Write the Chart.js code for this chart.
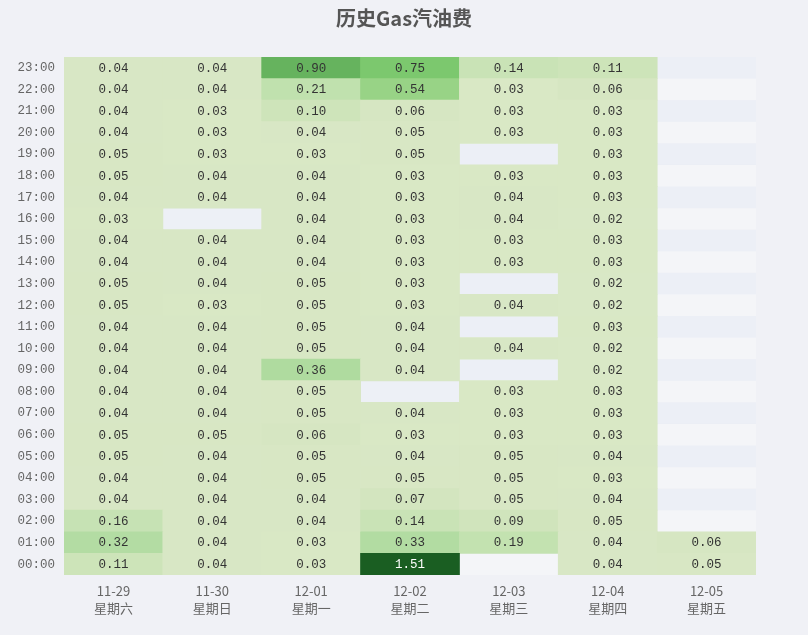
<!DOCTYPE html>
<html><head><meta charset="utf-8">
<script src="https://cdn.jsdelivr.net/npm/chart.js@4/dist/chart.umd.min.js"></script>
<style>html,body{margin:0;padding:0;background:#f0f1f6;}#wrap{width:808px;height:635px;position:relative;}</style>
</head><body><div id="wrap"><canvas id="c"></canvas></div>
<script>
const dates = ['11-29','11-30','12-01','12-02','12-03','12-04','12-05'];
const weekdays = ['星期六','星期日','星期一','星期二','星期三','星期四','星期五'];
const hourLabels = ['00:00','01:00','02:00','03:00','04:00','05:00','06:00','07:00','08:00','09:00','10:00','11:00',
  '12:00','13:00','14:00','15:00','16:00','17:00','18:00','19:00','20:00','21:00','22:00','23:00'];
// values per day, hour 00 -> 23 (null = no data)
const v1129 = [0.11,0.32,0.16,0.04,0.04,0.05,0.05,0.04,0.04,0.04,0.04,0.04,0.05,0.05,0.04,0.04,0.03,0.04,0.05,0.05,0.04,0.04,0.04,0.04];
const v1130 = [0.04,0.04,0.04,0.04,0.04,0.04,0.05,0.04,0.04,0.04,0.04,0.04,0.03,0.04,0.04,0.04,null,0.04,0.04,0.03,0.03,0.03,0.04,0.04];
const v1201 = [0.03,0.03,0.04,0.04,0.05,0.05,0.06,0.05,0.05,0.36,0.05,0.05,0.05,0.05,0.04,0.04,0.04,0.04,0.04,0.03,0.04,0.10,0.21,0.90];
const v1202 = [1.51,0.33,0.14,0.07,0.05,0.04,0.03,0.04,null,0.04,0.04,0.04,0.03,0.03,0.03,0.03,0.03,0.03,0.03,0.05,0.05,0.06,0.54,0.75];
const v1203 = [null,0.19,0.09,0.05,0.05,0.05,0.03,0.03,0.03,null,0.04,null,0.04,null,0.03,0.03,0.04,0.04,0.03,null,0.03,0.03,0.03,0.14];
const v1204 = [0.04,0.04,0.05,0.04,0.03,0.04,0.03,0.03,0.03,0.02,0.02,0.03,0.02,0.02,0.03,0.03,0.02,0.03,0.03,0.03,0.03,0.03,0.06,0.11];
const v1205 = [0.05,0.06,null,null,null,null,null,null,null,null,null,null,null,null,null,null,null,null,null,null,null,null,null,null];
const dayValues = [v1129,v1130,v1201,v1202,v1203,v1204,v1205];

const colorStops = [[0.02,'#d9e8c6'],[0.05,'#d8e7c4'],[0.07,'#d3e5bf'],[0.10,'#cee4ba'],[0.14,'#c9e3b6'],
  [0.21,'#c0e1ae'],[0.35,'#b0dba0'],[0.54,'#98d386'],[0.75,'#7cc86e'],[0.90,'#66b35e'],[1.51,'#1a5e22']];
function hex2rgb(h){return [parseInt(h.slice(1,3),16),parseInt(h.slice(3,5),16),parseInt(h.slice(5,7),16)];}
function cellRGB(v){
  if(v<=colorStops[0][0]) return hex2rgb(colorStops[0][1]);
  for(let i=1;i<colorStops.length;i++){
    if(v<=colorStops[i][0]){
      const a=colorStops[i-1],b=colorStops[i];const t=(v-a[0])/(b[0]-a[0]);
      const ca=hex2rgb(a[1]),cb=hex2rgb(b[1]);
      return ca.map((c,k)=>Math.round(c+(cb[k]-c)*t));
    }
  }
  return hex2rgb(colorStops[colorStops.length-1][1]);
}
function cellColor(v){const c=cellRGB(v);return `rgb(${c[0]},${c[1]},${c[2]})`;}

const datasets = hourLabels.map((label,h)=>({
  label,
  data: dayValues.map(day => day[h]==null ? null : [h, h+1]),
  values: dayValues.map(day => day[h]),
  backgroundColor: dayValues.map(day => day[h]==null ? 'rgba(0,0,0,0)' : cellColor(day[h])),
  borderWidth: 0,
  inflateAmount: 0.4,
  barPercentage: 1,
  categoryPercentage: 1,
  grouped: false
}));

const stripePlugin = {
  id:'stripes',
  beforeDatasetsDraw(chart){
    const {ctx, chartArea:a, scales:{x,y}} = chart;
    const light='rgba(250,250,250,0.2)', dark='rgba(210,219,238,0.2)';
    ctx.save();
    const w = x.getPixelForValue(1)-x.getPixelForValue(0);
    dates.forEach((d,i)=>{
      const cx=x.getPixelForValue(i);
      ctx.fillStyle = i%2===0?light:dark;
      ctx.fillRect(cx-w/2,a.top,w,a.bottom-a.top);
    });
    hourLabels.forEach((l,h)=>{
      const y0=y.getPixelForValue(h), y1=y.getPixelForValue(h+1);
      ctx.fillStyle = h%2===0?light:dark;
      ctx.fillRect(a.left,y1,a.right-a.left,y0-y1);
    });
    ctx.restore();
  }
};
const labelPlugin = {
  id:'cellLabels',
  afterDatasetsDraw(chart){
    const ctx=chart.ctx;
    ctx.save();
    ctx.font='12.5px "Liberation Mono", monospace';
    ctx.textAlign='center'; ctx.textBaseline='middle';
    chart.data.datasets.forEach((ds,di)=>{
      const meta=chart.getDatasetMeta(di);
      meta.data.forEach((el,i)=>{
        const v=ds.values[i]; if(v==null) return;
        const p=el.getProps(['x','y','base'],true);
        const c=cellRGB(v); const lum=0.299*c[0]+0.587*c[1]+0.114*c[2];
        ctx.fillStyle = lum<110 ? '#ffffff' : '#333333';
        ctx.fillText(v.toFixed(2), p.x, (p.y+p.base)/2+0.5);
      });
    });
    ctx.restore();
  }
};

new Chart(document.getElementById('c'), {
  type:'bar',
  data:{ labels: dates.map((d,i)=>[d, weekdays[i]]), datasets },
  options:{
    responsive:true, maintainAspectRatio:false, animation:false,
    layout:{padding:{left:0,right:0,top:0,bottom:0}},
    plugins:{
      legend:{display:false}, tooltip:{enabled:false},
      title:{display:true, text:'历史Gas汽油费', color:'#555555',
        font:{size:20, weight:'bold', family:'"Noto Sans CJK SC", sans-serif'}, padding:{top:6,bottom:27}}
    },
    scales:{
      x:{ type:'category', offset:true,
        grid:{display:false, drawTicks:false}, border:{display:false},
        afterFit:s=>{s.height=60;},
        ticks:{color:'#666666', padding:8, maxRotation:0, autoSkip:false,
          font:{size:13, family:'"Noto Sans CJK SC", sans-serif', lineHeight:1.3}}
      },
      y:{ type:'linear', min:0, max:24,
        grid:{display:false, drawTicks:false}, border:{display:false},
        afterBuildTicks:s=>{ s.ticks = hourLabels.map((_,i)=>({value:i+0.5})); },
        afterFit:s=>{s.width=64;},
        ticks:{color:'#666666', padding:9, autoSkip:false,
          font:{size:12.5, family:'"Liberation Mono", monospace'},
          callback:(v,i)=>hourLabels[i]}
      },
      yRight:{ type:'linear', position:'right', display:true, min:0, max:24,
        grid:{display:false, drawTicks:false}, border:{display:false},
        ticks:{display:false},
        afterFit:s=>{s.width=52;}
      }
    }
  },
  plugins:[stripePlugin, labelPlugin]
});
</script></body></html>
